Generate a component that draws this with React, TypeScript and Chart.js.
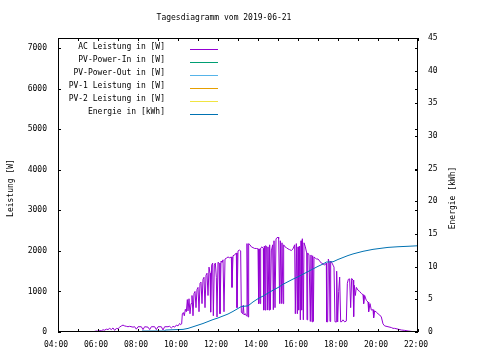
import React, { useEffect, useRef } from "react";
import { Chart, registerables } from "chart.js";

Chart.register(...registerables);

const chartTitle = "Tagesdiagramm vom 2019-06-21";
const leftAxisTitle = "Leistung [W]";
const rightAxisTitle = "Energie [kWh]";

const seriesLabels = [
  "AC Leistung in [W]",
  "PV-Power-In in [W]",
  "PV-Power-Out in [W]",
  "PV-1 Leistung in [W]",
  "PV-2 Leistung in [W]",
  "Energie in [kWh]",
];
const seriesColors = ["#9400D3", "#009E73", "#56B4E9", "#E69F00", "#F0E442", "#0072B2"];

const xTickHours = [4, 6, 8, 10, 12, 14, 16, 18, 20, 22];
const xTickLabels = ["04:00", "06:00", "08:00", "10:00", "12:00", "14:00", "16:00", "18:00", "20:00", "22:00"];
const leftTicks = [0, 1000, 2000, 3000, 4000, 5000, 6000, 7000];
const rightTicks = [0, 5, 10, 15, 20, 25, 30, 35, 40, 45];

const acTimes = [
  "05:38","05:45","05:50","05:55","06:00","06:05","06:10","06:15","06:20","06:25","06:30","06:35","06:40","06:45","06:50","06:55",
  "07:00","07:05","07:10","07:15","07:20","07:25","07:30","07:35","07:45","07:50","07:55","08:00","08:10","08:15","08:20","08:30",
  "08:35","08:40","08:50","08:55","09:00","09:10","09:15","09:20","09:30","09:35","09:40","09:45","09:50","09:55","10:00","10:05",
  "10:08","10:11","10:13","10:16","10:19","10:22","10:25","10:28","10:30","10:33","10:36","10:39","10:42","10:45","10:48","10:51",
  "10:54","10:57","11:00","11:03","11:06","11:09","11:12","11:15","11:18","11:21","11:24","11:27","11:30","11:33","11:36","11:38",
  "11:41","11:44","11:46","11:49","11:52","11:55","11:57","12:00","12:03","12:06","12:09","12:12","12:15","12:18","12:21","12:25",
  "12:30","12:35","12:40","12:42","12:45","12:50","12:55","12:57","13:00","13:05","13:08","13:10","13:14","13:16","13:18","13:22",
  "13:25","13:27","13:30","13:32","13:36","13:40","13:45","13:50","13:55","14:00","14:02","14:04","14:06","14:08","14:12","14:16",
  "14:17","14:19","14:21","14:23","14:26","14:28","14:30","14:33","14:35","14:37","14:40","14:44","14:46","14:48","14:51","14:54",
  "15:00","15:02","15:05","15:07","15:10","15:12","15:15","15:17","15:21","15:25","15:30","15:35","15:40","15:45","15:50","15:52",
  "15:55","15:58","16:00","16:02","16:05","16:07","16:09","16:11","16:13","16:16","16:18","16:22","16:26","16:27","16:29","16:33",
  "16:37","16:39","16:42","16:44","16:46","16:48","16:52","16:56","17:00","17:05","17:10","17:15","17:20","17:25","17:26","17:29",
  "17:31","17:34","17:36","17:38","17:42","17:45","17:48","17:51","17:54","17:56","17:59","18:02","18:05","18:08","18:12","18:15",
  "18:20","18:25","18:28","18:31","18:35","18:38","18:41","18:45","18:47","18:49","18:52","18:55","19:00","19:05","19:10","19:15",
  "19:17","19:20","19:25","19:30","19:32","19:36","19:40","19:45","19:47","19:50","19:55","20:00","20:05","20:10","20:15","20:20",
  "20:30","20:40","20:45","20:50","21:00","21:10","21:20","21:30","21:40","21:50","21:55"
];
const acWatts = [
  0,10,15,25,20,35,30,55,45,70,60,90,60,100,40,90,
  80,120,150,170,150,140,130,140,120,130,70,130,130,60,130,120,
  60,130,130,60,130,130,50,130,130,140,100,140,120,170,150,210,
  180,200,450,480,400,560,500,800,520,820,450,700,900,400,950,1000,
  600,1050,1100,500,1200,1230,700,1300,1350,600,1400,1450,900,1600,1450,490,
  1650,1700,400,1650,1700,1350,370,1720,1700,450,1750,1720,1780,500,1800,1820,
  1850,1830,1850,1100,1880,1900,1950,600,2000,2020,2000,490,450,660,420,450,
  400,2180,370,2180,2150,2100,2080,2060,2060,2050,700,2050,700,2070,2100,2060,
  540,2120,540,2130,2100,540,2100,540,2150,550,2000,2150,550,2250,600,2300,
  2340,2300,700,2250,700,2200,700,2150,2100,2080,2050,2030,2010,2050,2150,450,
  2180,450,2100,540,2120,300,2250,540,2300,300,2200,2100,1950,300,1950,1900,
  260,1900,250,1880,260,1850,1820,1800,1800,1750,1700,1680,1650,1700,250,250,
  1800,1700,260,1750,1700,1650,1600,250,250,1500,250,1000,1355,250,260,300,
  250,270,1200,1300,1310,600,1320,1280,380,1150,900,1100,1030,1000,950,920,
  700,900,780,740,500,700,540,550,350,520,490,450,420,370,200,150,
  130,110,90,90,70,50,40,25,15,5,0
];

const energyTimes = [
  "06:50","08:10","08:12","09:20","09:22","10:15","10:30","10:45","11:00","11:15","11:30","11:45","12:00","12:15","12:30","12:45",
  "13:00","13:10","13:30","13:45","14:00","14:15","14:30","14:45","15:00","15:15","15:30","15:45","16:00","16:15","16:30","16:45",
  "17:00","17:15","17:25","17:45","18:00","18:15","18:30","18:45","19:00","19:15","19:30","19:45","20:00","20:15","20:30","21:00",
  "21:30","22:00"
];
const energyKwh = [
  0,0,0.15,0.15,0.3,0.4,0.55,0.8,1.05,1.3,1.6,1.9,2.15,2.45,2.75,3.15,
  3.6,3.9,4.0,4.6,5.1,5.5,5.95,6.4,6.8,7.3,7.7,8.1,8.45,8.85,9.25,9.65,
  10.05,10.4,10.7,10.75,11.1,11.4,11.7,11.95,12.15,12.35,12.5,12.65,12.75,12.85,12.95,13.05,
  13.12,13.2
];

const FONT = "'DejaVu Sans Mono', monospace";

function toHours(t: string): number {
  const [h, m] = t.split(":").map(Number);
  return h + m / 60;
}

const decorPlugin = {
  id: "decor",
  afterDraw(chart: any) {
    const { ctx, chartArea } = chart;
    const { left, right, top, bottom } = chartArea;
    const xs = chart.scales.x;
    const y1 = chart.scales.y;
    const y2 = chart.scales.y2;
    ctx.save();
    ctx.strokeStyle = "#000";
    ctx.lineWidth = 1;
    ctx.strokeRect(left + 0.5, top + 0.5, right - left - 1, bottom - top - 1);
    const tl = 3;
    ctx.beginPath();
    for (let h = 4; h <= 22; h++) {
      const px = Math.round(xs.getPixelForValue(h)) + 0.5;
      ctx.moveTo(px, bottom);
      ctx.lineTo(px, bottom - tl);
      ctx.moveTo(px, top);
      ctx.lineTo(px, top + tl);
    }
    leftTicks.forEach((v) => {
      const py = Math.round(y1.getPixelForValue(v)) + 0.5;
      ctx.moveTo(left, py);
      ctx.lineTo(left + tl, py);
      ctx.moveTo(right, py);
      ctx.lineTo(right - tl, py);
    });
    rightTicks.forEach((v) => {
      const py = Math.round(y2.getPixelForValue(v)) + 0.5;
      ctx.moveTo(right, py);
      ctx.lineTo(right - tl, py);
    });
    ctx.stroke();

    ctx.fillStyle = "#000";
    ctx.font = `8px ${FONT}`;
    ctx.textAlign = "center";
    ctx.textBaseline = "middle";
    ctx.fillText(chartTitle, 224, 18);

    ctx.save();
    ctx.translate(11, 188);
    ctx.rotate(-Math.PI / 2);
    ctx.fillText(leftAxisTitle, 0, 0);
    ctx.restore();
    ctx.save();
    ctx.translate(453, 198);
    ctx.rotate(-Math.PI / 2);
    ctx.fillText(rightAxisTitle, 0, 0);
    ctx.restore();

    // legend
    ctx.textAlign = "right";
    seriesLabels.forEach((lab, i) => {
      const ry = 46.5 + i * 13.06;
      ctx.fillStyle = "#000";
      ctx.fillText(lab, 165, ry);
      ctx.strokeStyle = seriesColors[i];
      ctx.beginPath();
      ctx.moveTo(190, Math.round(ry + 2) + 0.5);
      ctx.lineTo(218, Math.round(ry + 2) + 0.5);
      ctx.stroke();
    });
    ctx.restore();
  },
};

export default function App() {
  const ref = useRef<HTMLCanvasElement | null>(null);
  useEffect(() => {
    document.body.style.margin = "0";
    const canvas = ref.current;
    if (!canvas) return;
    const mk = (i: number, times: string[], vals: number[], axis: string, order: number) => ({
      label: seriesLabels[i],
      data: times.map((t, k) => ({ x: toHours(t), y: vals[k] })),
      borderColor: seriesColors[i],
      backgroundColor: seriesColors[i],
      borderWidth: 1,
      pointRadius: 0,
      fill: false,
      tension: 0,
      yAxisID: axis,
      order,
    });
    const chart = new Chart(canvas, {
      type: "line",
      data: {
        datasets: [
          mk(0, acTimes, acWatts, "y", 1),
          mk(1, [], [], "y", 2),
          mk(2, [], [], "y", 2),
          mk(3, [], [], "y", 2),
          mk(4, [], [], "y", 2),
          mk(5, energyTimes, energyKwh, "y2", 0),
        ] as any,
      },
      options: {
        responsive: false,
        animation: false,
        devicePixelRatio: 1,
        layout: { padding: { top: 38, left: 0, right: 0, bottom: 0 } },
        plugins: { legend: { display: false }, tooltip: { enabled: false }, title: { display: false } },
        scales: {
          x: {
            type: "linear",
            min: 4,
            max: 22,
            grid: { display: false, drawTicks: false },
            border: { display: false },
            afterBuildTicks: (s: any) => {
              s.ticks = xTickHours.map((v) => ({ value: v }));
            },
            afterFit: (s: any) => {
              s.height = 28;
            },
            ticks: {
              color: "#000",
              font: { family: FONT, size: 8 },
              padding: 8,
              maxRotation: 0,
              autoSkip: false,
              labelOffset: -2,
              callback: (v: any) => {
                const idx = xTickHours.indexOf(Number(v));
                return idx >= 0 ? xTickLabels[idx] : "";
              },
            },
          },
          y: {
            type: "linear",
            position: "left",
            min: 0,
            max: 7250,
            grid: { display: false, drawTicks: false },
            border: { display: false },
            afterBuildTicks: (s: any) => {
              s.ticks = leftTicks.map((v) => ({ value: v }));
            },
            afterFit: (s: any) => {
              s.width = 58;
            },
            ticks: {
              color: "#000",
              font: { family: FONT, size: 8 },
              padding: 11,
              autoSkip: false,
              callback: (v: any) => String(v),
            },
          },
          y2: {
            type: "linear",
            position: "right",
            min: 0,
            max: 45,
            grid: { display: false, drawTicks: false },
            border: { display: false },
            afterBuildTicks: (s: any) => {
              s.ticks = rightTicks.map((v) => ({ value: v }));
            },
            afterFit: (s: any) => {
              s.width = 62;
            },
            ticks: {
              color: "#000",
              font: { family: FONT, size: 8 },
              padding: 10,
              autoSkip: false,
              callback: (v: any) => String(v),
            },
          },
        },
      },
      plugins: [decorPlugin],
    });
    return () => chart.destroy();
  }, []);
  return <canvas ref={ref} width={480} height={360} style={{ display: "block", width: 480, height: 360 }} />;
}
